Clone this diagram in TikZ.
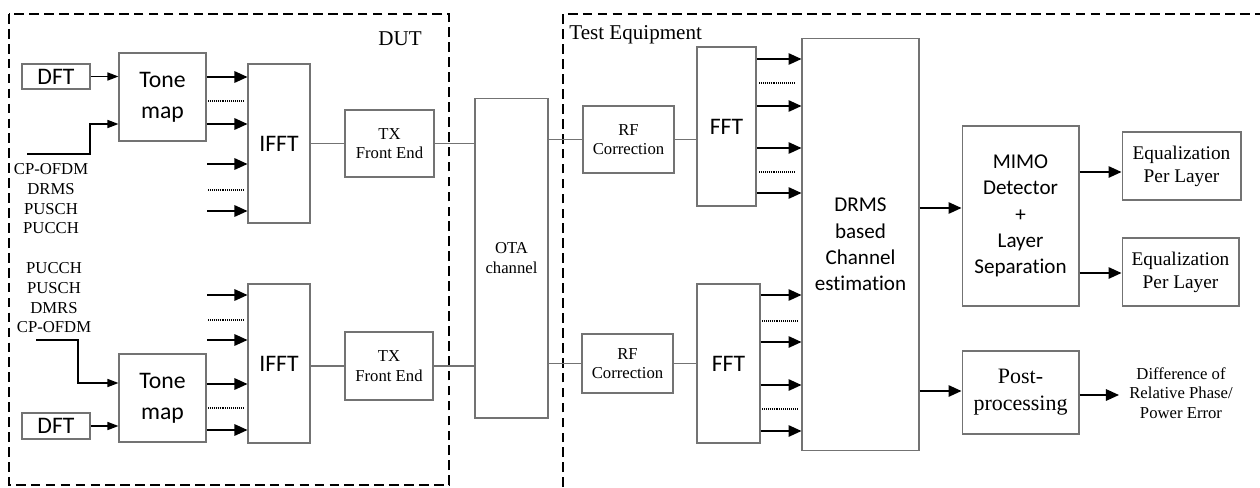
\documentclass[tikz,border=0pt]{standalone}
\usepackage{fontspec}
\setmainfont{Liberation Serif}
\setsansfont{Carlito}[Ligatures=NoCommon]
\usetikzlibrary{positioning,calc,arrows.meta}
\tikzset{font=\small}
\tikzset{
	blk/.style={draw=black!55, line width=0.6pt, align=center, inner sep=1pt},
	sblk/.style={blk, font=\sffamily\fontsize{13.5}{17.5}\selectfont},
	bigblk/.style={blk, font=\sffamily\fontsize{12}{15}\selectfont},
	rblk/.style={blk, font=\fontsize{9.5}{11}\selectfont},
	arr/.style={-{Triangle[length=2.6mm,width=2.3mm]}, line width=0.85pt},
	sarr/.style={-{Triangle[length=2.2mm,width=1.6mm]}, line width=0.85pt},
	wire/.style={draw=black!55, line width=0.6pt},
	dots/.style={line width=0.6pt, dash pattern=on 0.5pt off 0.6pt},
	frame/.style={line width=1pt, dash pattern=on 5.5pt off 3pt},
	sig/.style={align=center, inner sep=0pt, font=\fontsize{9.5}{11.2}\selectfont},
}

\begin{document}
\begin{tikzpicture}[x=0.02cm, y=-0.02cm]
	\useasboundingbox (0,0) rectangle (1260,487);

	% DUT side
	\draw[frame] (9,14) rectangle (449,485);
	\node[anchor=base, font=\fontsize{12}{14}\selectfont] (dut) at (400,45) {DUT};

	\node[sblk, minimum width=1.36cm, minimum height=0.5cm] (dft1) at (56,76.5) {DFT};
	\node[sblk, minimum width=1.74cm, minimum height=1.76cm] (tone1) at (162.5,97) {Tone\\map};
	\node[sblk, minimum width=1.24cm, minimum height=3.18cm] (ifft1) at (279,143.5) {IFFT};
	\node[rblk, minimum width=1.78cm, minimum height=1.34cm] (tx1) at (389.5,143.5) {TX\\Front End};
	\node[sig] (sig1) at (51,199) {CP-OFDM\\DRMS\\PUSCH\\PUCCH};

	\node[sblk, minimum width=1.36cm, minimum height=0.52cm] (dft2) at (56,426) {DFT};
	\node[sblk, minimum width=1.74cm, minimum height=1.76cm] (tone2) at (162.5,398) {Tone\\map};
	\node[sblk, minimum width=1.24cm, minimum height=3.18cm] (ifft2) at (279,363.5) {IFFT};
	\node[rblk, minimum width=1.76cm, minimum height=1.36cm] (tx2) at (389,366) {TX\\Front End};
	\node[sig] (sig2) at (54,298) {PUCCH\\PUSCH\\DMRS\\CP-OFDM};

	\coordinate (in1) at (27,154);
	\coordinate (in2) at (36,340);
	\draw[sarr] (dft1) -- (tone1.west |- dft1);
	\draw[sarr] (in1) -- (90,154) |- (tone1.west |- 0,124);
	\draw[sarr] (dft2) -- (tone2.west |- dft2);
	\draw[sarr] (in2) -- (78,340) |- (tone2.west |- 0,383);

	\foreach \y in {77,124} \draw[arr] (tone1.east |- 0,\y) -- (ifft1.west |- 0,\y);
	\foreach \y in {384,430} \draw[arr] (tone2.east |- 0,\y) -- (ifft2.west |- 0,\y);
	\foreach \y [count=\i] in {164,211,295,340} {
		\coordinate (s\i) at (207,\y);
		\draw[arr] (s\i) -- (s\i -| ifft1.west);
	}
	\foreach \y in {101,190,320,408} \draw[dots] (208,\y) -- (243,\y);

	\draw[wire] (ifft1) -- (tx1);
	\draw[wire] (ifft2.east |- tx2) -- (tx2);

	% channel
	\node[rblk, minimum width=1.46cm, minimum height=6.4cm] (ota) at (511.5,258) {OTA\\channel};
	\draw[wire] (tx1) -- (tx1 -| ota.west);
	\draw[wire] (tx2) -- (tx2 -| ota.west);

	% test equipment side
	\draw[frame] (563,487) -- (563,14) -- (1260,14);
	\node[anchor=base west, inner sep=0pt, font=\fontsize{12}{14}\selectfont] (te) at (569,39) {Test Equipment};

	\node[rblk, minimum width=1.82cm, minimum height=1.34cm] (rf1) at (628.5,139.5) {RF\\Correction};
	\node[rblk, minimum width=1.82cm, minimum height=1.18cm] (rf2) at (627.5,363.5) {RF\\Correction};
	\node[sblk, minimum width=1.18cm, minimum height=3.18cm] (fft1) at (726.5,126.5) {FFT};
	\node[sblk, minimum width=1.26cm, minimum height=3.18cm] (fft2) at (728.5,363.5) {FFT};
	\node[bigblk, minimum width=2.34cm, minimum height=8.26cm] (drms) at (860.5,244.5) {DRMS\\based\\Channel\\estimation};

	\draw[wire] (rf1 -| ota.east) -- (rf1);
	\draw[wire] (rf2 -| ota.east) -- (rf2);
	\draw[wire] (rf1) -- (fft1.west |- rf1);
	\draw[wire] (rf2) -- (fft2);

	\foreach \y in {59,106,148,193} \draw[arr] (fft1.east |- 0,\y) -- (drms.west |- 0,\y);
	\foreach \y in {295,342,385,431} \draw[arr] (fft2.east |- 0,\y) -- (drms.west |- 0,\y);
	\foreach \y in {83,172} \draw[dots] (759,\y) -- (795,\y);
	\foreach \y in {321,409} \draw[dots] (762,\y) -- (797,\y);

	\node[bigblk, minimum width=2.34cm, minimum height=3.6cm] (mimo) at (1020.5,216) {MIMO\\Detector\\+\\Layer\\Separation};
	\node[blk, font=\fontsize{11}{13.2}\selectfont, minimum width=2.38cm, minimum height=1.36cm] (eq1) at (1181.5,166) {Equalization\\Per Layer};
	\node[blk, font=\fontsize{11}{13.2}\selectfont, minimum width=2.34cm, minimum height=1.36cm] (eq2) at (1180.5,272) {Equalization\\Per Layer};
	\node[blk, font=\fontsize{12.5}{15.5}\selectfont, minimum width=2.34cm, minimum height=1.66cm] (post) at (1020.5,392.5) {Post-\\processing};
	\node[sig, inner xsep=0.2cm] (diff) at (1181,393) {Difference of\\Relative Phase/\\Power Error};

	\draw[arr] (drms.east |- 0,208) -- (mimo.west |- 0,208);
	\draw[arr] (drms.east |- 0,391) -- (post.west |- 0,391);
	\draw[arr] (mimo.east |- 0,172) -- (eq1.west |- 0,172);
	\draw[arr] (mimo.east |- 0,273) -- (eq2.west |- 0,273);
	\draw[arr] (post.east |- 0,395) -- (diff.west |- 0,395);
\end{tikzpicture}
\end{document}
